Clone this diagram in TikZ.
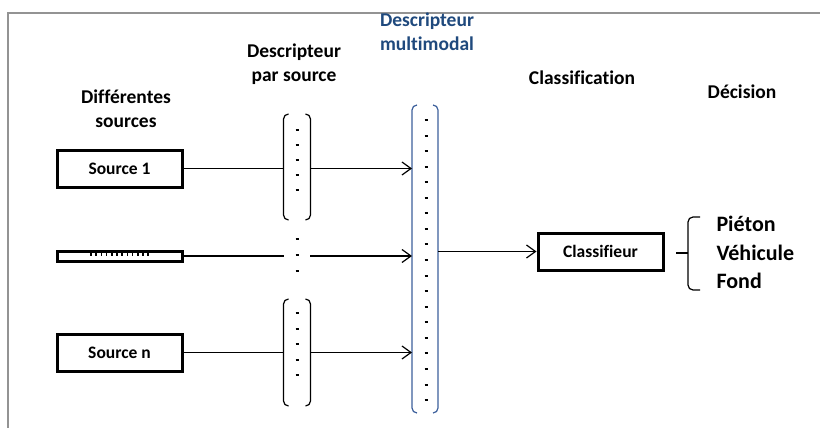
\documentclass[tikz,border=0pt]{standalone}
\usepackage{fontspec}
\setmainfont{Carlito}[Ligatures=NoCommon]
\usetikzlibrary{arrows.meta}
\definecolor{mmblue}{RGB}{31,73,125}
\definecolor{vecblue}{RGB}{60,95,155}

\begin{document}
\begin{tikzpicture}
  [x=1pt,y=-1pt,
   every node/.style={align=center,font=\bfseries\fontsize{19.5}{24}\selectfont},
   srcbox/.style={draw,line width=3pt,minimum width=125pt,minimum height=37pt,inner sep=0pt,
     font=\bfseries\fontsize{17.5}{20}\selectfont},
   vec/.style={minimum width=27pt,inner sep=0pt,outer sep=0pt},
   lnk/.style={line width=1.2pt},
   arr/.style={lnk,-{Straight Barb[length=9pt,width=13pt]}}]
  \useasboundingbox (0,0) rectangle (820,428);
  \draw[gray!85,line width=2pt] (820,13) -- (8,13) -- (8,428);

  \node (h1) at (126,109) {Différentes\\sources};
  \node (h2) at (294,64) {Descripteur\\par source};
  \node[text=mmblue] (h3) at (427,32) {Descripteur\\multimodal};
  \node (h4) at (582,78) {Classification};
  \node (h5) at (742,92) {Décision};

  \node[srcbox] (s1) at (119.5,168.5) {Source 1};
  \node[srcbox,minimum height=10pt] (s2) at (119.5,256) {};
  \node[srcbox] (sn) at (119.5,352.5) {Source n};
  \node[srcbox] (cl) at (600.5,251.5) {Classifieur};

  \node[vec,minimum height=106pt] (d1) at (297,167) {};
  \node[vec,minimum height=107pt] (dn) at (297,352.5) {};
  \node[vec,minimum width=26pt,minimum height=308pt] (m) at (425,259) {};
  \coordinate (g1) at (284,256);
  \coordinate (g2) at (310,256);

  \foreach \i in {0,...,11}
    \draw[line width=1.5pt] (91+5.2*\i,252) -- (91+5.2*\i,256);

  \foreach \v/\c in {d1/black,dn/black,m/vecblue}{
    \draw[lnk,\c,rounded corners=5pt] ([xshift=5pt]\v.north west) -| (\v.south west) -- ++(5,0);
    \draw[lnk,\c,rounded corners=5pt] ([xshift=-5pt]\v.north east) -| (\v.south east) -- ++(-5,0);
  }
  \foreach \y in {130,145,...,190}
    \draw[line width=2pt] (295.5,\y) -- (298.5,\y);
  \foreach \y in {313,328.5,...,376}
    \draw[line width=2pt] (295.5,\y) -- (298.5,\y);
  \foreach \y in {239,255,271}
    \draw[line width=2pt] (295.5,\y) -- (298.5,\y);
  \foreach \i in {0,...,18}
    \draw[line width=2pt] (424.5,120+15.56*\i) -- (427.5,120+15.56*\i);

  \draw[lnk] (s1) -- (d1.west |- s1);
  \draw[arr] (d1.east |- s1) -- (m.west |- s1);
  \draw[lnk] (s2) -- (g1);
  \draw[arr] (g2) -- (m.west |- g2);
  \draw[lnk] (sn) -- (dn.west |- sn);
  \draw[arr] (dn.east |- sn) -- (m.west |- sn);
  \draw[arr] (m.east |- cl) -- (cl);

  \coordinate (b) at (688,253);
  \draw[lnk,rounded corners=5pt] (700,217) -| (688,290) -- (700,290);
  \draw[lnk] (676,253) -- (b);
  \node[anchor=west,font=\bfseries\fontsize{22}{26}\selectfont] (p1) at (713,224) {Piéton};
  \node[anchor=west,font=\bfseries\fontsize{22}{26}\selectfont] (p2) at (713,253) {Véhicule};
  \node[anchor=west,font=\bfseries\fontsize{22}{26}\selectfont] (p3) at (713,281) {Fond};
\end{tikzpicture}
\end{document}
